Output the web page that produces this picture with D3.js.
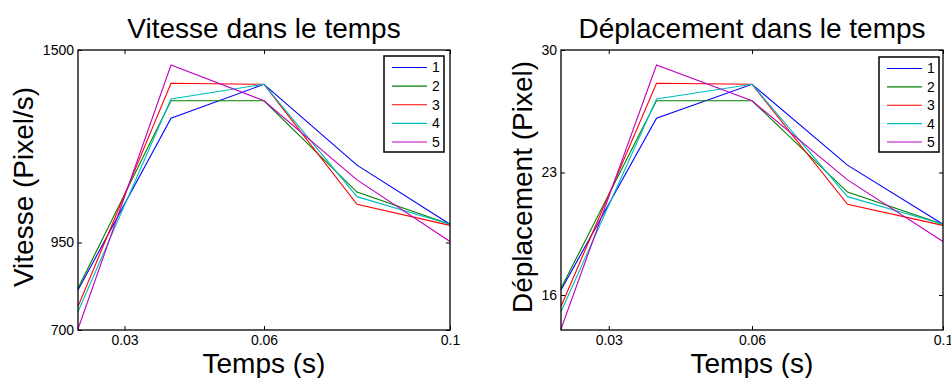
<!DOCTYPE html>
<html>
<head>
<meta charset="utf-8">
<script src="https://cdn.jsdelivr.net/npm/d3@7"></script>
<style>
  body { margin: 0; background: #fff; }
  svg { display: block; font-family: "Liberation Sans", Arial, Helvetica, sans-serif; }
</style>
</head>
<body>
<svg id="chart" width="951" height="378"></svg>
<script>
// ---- data ----
const times = [0.02, 0.04, 0.06, 0.08, 0.1];
const seriesNames = ["1", "2", "3", "4", "5"];
const seriesColors = ["#0000ff", "#008000", "#ff0000", "#00bfbf", "#bf00bf"];

const vitesse1 = [814, 1305, 1402, 1171, 1002];
const vitesse2 = [819, 1355, 1355, 1094, 1002];
const vitesse3 = [767, 1405, 1402, 1059, 999];
const vitesse4 = [752, 1360, 1402, 1081, 1002];
const vitesse5 = [703, 1457, 1355, 1129, 953];

const depl1 = [16.28, 26.1, 28.04, 23.42, 20.04];
const depl2 = [16.38, 27.1, 27.1, 21.88, 20.04];
const depl3 = [15.34, 28.1, 28.04, 21.18, 19.98];
const depl4 = [15.04, 27.2, 28.04, 21.62, 20.04];
const depl5 = [14.06, 29.14, 27.1, 22.58, 19.06];

const xTicks = [0.03, 0.06, 0.1];
const xTickLabels = ["0.03", "0.06", "0.1"];
const vTicks = [700, 950, 1500];
const dTicks = [16, 23, 30];

const charts = [
  {
    title: "Vitesse dans le temps",
    ylabel: "Vitesse (Pixel/s)",
    series: [vitesse1, vitesse2, vitesse3, vitesse4, vitesse5],
    yDomain: [700, 1500], yTicks: vTicks,
    x0: 78, x1: 450, ylabX: 33,
    legend: { x: 384, y: 56, w: 60, h: 96 }
  },
  {
    title: "Déplacement dans le temps",
    ylabel: "Déplacement (Pixel)",
    series: [depl1, depl2, depl3, depl4, depl5],
    yDomain: [14, 30], yTicks: dTicks,
    x0: 561, x1: 943, ylabX: 532,
    legend: { x: 879, y: 57, w: 60, h: 95 }
  }
];

const svg = d3.select("#chart");
const plotTop = 50, plotBottom = 330;

charts.forEach(c => {
  const x = d3.scaleLinear().domain([0.02, 0.1]).range([c.x0, c.x1]);
  const y = d3.scaleLinear().domain(c.yDomain).range([plotBottom, plotTop]);
  const g = svg.append("g");

  // lines
  const line = d3.line().x((d, i) => x(times[i])).y(d => y(d));
  c.series.forEach((s, i) => {
    g.append("path").datum(s)
      .attr("d", line)
      .attr("fill", "none")
      .attr("stroke", seriesColors[i])
      .attr("stroke-width", 1.1);
  });

  // axes (MATLAB style, inward ticks, on all sides)
  g.append("g").attr("transform", `translate(0,${plotBottom})`)
    .call(d3.axisBottom(x).tickValues(xTicks).tickSizeInner(-4).tickSizeOuter(0).tickPadding(5).tickFormat(d => xTickLabels[xTicks.indexOf(d)]))
    .call(a => a.select(".domain").remove());
  g.append("g").attr("transform", `translate(0,${plotTop})`)
    .call(d3.axisTop(x).tickValues(xTicks).tickSizeInner(-4).tickSizeOuter(0).tickFormat(""))
    .call(a => a.select(".domain").remove());
  g.append("g").attr("transform", `translate(${c.x0},0)`)
    .call(d3.axisLeft(y).tickValues(c.yTicks).tickSizeInner(-4).tickSizeOuter(0).tickPadding(4).tickFormat(d3.format("d")))
    .call(a => a.select(".domain").remove());
  g.append("g").attr("transform", `translate(${c.x1},0)`)
    .call(d3.axisRight(y).tickValues(c.yTicks).tickSizeInner(-4).tickSizeOuter(0).tickFormat(""))
    .call(a => a.select(".domain").remove());
  g.selectAll(".tick line").attr("stroke", "#000");
  g.selectAll(".tick text").attr("font-size", 14).attr("fill", "#000")
    .attr("font-family", "'Liberation Sans', Arial, sans-serif");

  // box
  g.append("rect")
    .attr("x", c.x0).attr("y", plotTop)
    .attr("width", c.x1 - c.x0).attr("height", plotBottom - plotTop)
    .attr("fill", "none").attr("stroke", "#000").attr("stroke-width", 1.3);

  // title
  g.append("text")
    .attr("x", (c.x0 + c.x1) / 2).attr("y", 38)
    .attr("text-anchor", "middle").attr("font-size", 28)
    .text(c.title);

  // x label
  g.append("text")
    .attr("x", (c.x0 + c.x1) / 2).attr("y", 373)
    .attr("text-anchor", "middle").attr("font-size", 28)
    .text("Temps (s)");

  // y label
  g.append("text")
    .attr("transform", `translate(${c.ylabX},187) rotate(-90)`)
    .attr("text-anchor", "middle").attr("font-size", 28)
    .text(c.ylabel);

  // legend
  const L = c.legend;
  const lg = g.append("g");
  lg.append("rect").attr("x", L.x).attr("y", L.y).attr("width", L.w).attr("height", L.h)
    .attr("fill", "#fff").attr("stroke", "#000").attr("stroke-width", 1.5);
  const ly = d3.scalePoint().domain(seriesNames).range([L.y + 11.5, L.y + L.h - 10]);
  seriesNames.forEach((n, i) => {
    lg.append("line")
      .attr("x1", L.x + 8).attr("x2", L.x + 43)
      .attr("y1", ly(n)).attr("y2", ly(n))
      .attr("stroke", seriesColors[i]).attr("stroke-width", 1.1);
    lg.append("text")
      .attr("x", L.x + 48).attr("y", ly(n)).attr("dy", "0.35em")
      .attr("font-size", 14).text(n);
  });
});
</script>
</body>
</html>
